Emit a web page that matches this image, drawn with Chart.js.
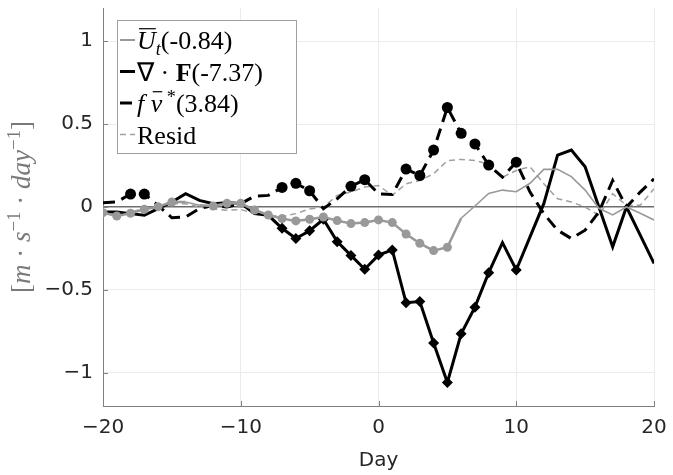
<!DOCTYPE html>
<html>
<head>
<meta charset="utf-8">
<script src="https://cdn.jsdelivr.net/npm/chart.js@4.4.0/dist/chart.umd.min.js"></script>
<style>
  html, body { margin: 0; padding: 0; background: #fff; }
  #wrap { width: 673px; height: 475px; }
</style>
</head>
<body>
<div id="wrap"><canvas id="lineChart"></canvas></div>
<script>
// days relative to event
var days = [-20, -19, -18, -17, -16, -15, -14, -13, -12, -11, -10, -9, -8, -7, -6, -5, -4, -3, -2, -1,
            0, 1, 2, 3, 4, 5, 6, 7, 8, 9, 10, 11, 12, 13, 14, 15, 16, 17, 18, 19, 20];

// zonal wind tendency
var ut = [-0.034, -0.054, -0.038, -0.014, 0.002, 0.03, 0.03, 0.01, 0.006, 0.022, 0.022, -0.018, -0.048, -0.07, -0.084, -0.074, -0.06, -0.082, -0.1, -0.094,
          -0.078, -0.094, -0.163, -0.219, -0.263, -0.243, -0.068, 0.006, 0.082, 0.102, 0.092, 0.143, 0.227, 0.227, 0.183, 0.102, -0.008, -0.048, 0.0, -0.038, -0.078];
var utSig = [1, 1, 1, 1, 1, 1, 0, 0, 1, 1, 1, 1, 1, 1, 1, 1, 1, 1, 1, 1,
             1, 1, 1, 1, 1, 1, 0, 0, 0, 0, 0, 0, 0, 0, 0, 0, 0, 0, 0, 0, 0];

// EP flux divergence
var divF = [-0.03, -0.03, -0.04, -0.05, -0.01, 0.03, 0.08, 0.04, 0.02, 0.026, 0.022, -0.04, -0.05, -0.128, -0.19, -0.143, -0.074, -0.209, -0.292, -0.375,
            -0.29, -0.259, -0.577, -0.57, -0.82, -1.058, -0.765, -0.604, -0.396, -0.215, -0.38, -0.18, 0.02, 0.313, 0.343, 0.243, 0.0, -0.24, 0.0, -0.17, -0.34];
var divFSig = [0, 0, 0, 0, 0, 0, 0, 0, 0, 0, 0, 0, 0, 1, 1, 1, 1, 1, 1, 1,
               1, 1, 1, 1, 1, 1, 1, 1, 1, 0, 1, 0, 0, 0, 0, 0, 0, 0, 0, 0, 0];

// coriolis term
var fv = [0.026, 0.03, 0.078, 0.078, 0.01, -0.065, -0.06, -0.01, 0.01, 0.0, 0.02, 0.065, 0.07, 0.118, 0.143, 0.098, -0.01, 0.05, 0.125, 0.165,
          0.08, 0.075, 0.229, 0.19, 0.343, 0.6, 0.444, 0.38, 0.253, 0.18, 0.27, 0.09, -0.04, -0.14, -0.19, -0.14, -0.03, 0.16, 0.0, 0.09, 0.17];
var fvSig = [0, 0, 1, 1, 0, 0, 0, 0, 0, 0, 0, 0, 0, 1, 1, 1, 0, 0, 1, 1,
             0, 0, 1, 1, 1, 1, 1, 1, 1, 0, 1, 0, 0, 0, 0, 0, 0, 0, 0, 0, 0];

// residual
var resid = [-0.03, -0.04, -0.03, -0.01, 0.0, 0.02, 0.02, 0.0, -0.01, -0.02, -0.015, -0.04, -0.05, -0.058, -0.04, -0.012, 0.0, 0.07, 0.09, 0.12,
             0.13, 0.07, 0.14, 0.16, 0.2, 0.28, 0.287, 0.28, 0.26, 0.18, 0.22, 0.243, 0.14, 0.05, 0.03, 0.0, -0.05, 0.08, 0.01, 0.01, 0.11];

var xTicks = [-20, -10, 0, 10, 20];
var yTicks = [-1, -0.5, 0, 0.5, 1];

var seriesNames = ['Ut(-0.84)', 'div F(-7.37)', 'f v*(3.84)', 'Resid'];
// legend labels as pieces of math text
var legendLabels = [
    [{t: 'U', i: 1, over: 1}, {t: 't', i: 1, sub: 1}, {t: '(-0.84)'}],
    [{t: '\u2207 \u00b7 '}, {t: 'F', b: 1}, {t: '(-7.37)'}],
    [{t: 'f', i: 1}, {t: ' v', i: 1, over: 1}, {t: ' *', sup: 1}, {t: '(3.84)'}],
    [{t: 'Resid'}]
];
var yTitle = [{t: '['}, {t: 'm', i: 1}, {t: ' \u00b7 '}, {t: 's', i: 1}, {t: '\u22121', sup: 1},
              {t: ' \u00b7 '}, {t: 'day', i: 1}, {t: '\u22121', sup: 1}, {t: ']'}];

function pts(arr) {
    return days.map(function (d, i) { return {x: d, y: arr[i]}; });
}
function radii(sig, r) {
    return sig.map(function (s) { return s ? r : 0; });
}
function minus(v) {
    return v < 0 ? '\u2212' + Math.abs(v) : '' + v;
}

function segFont(s, size) {
    var sz = (s.sub || s.sup) ? size * 0.7 : size;
    return (s.i ? 'italic ' : '') + (s.b ? 'bold ' : '') + sz + 'px "Liberation Serif"';
}
function richWidth(ctx, segs, size) {
    var w = 0;
    segs.forEach(function (s) { ctx.font = segFont(s, size); w += ctx.measureText(s.t).width; });
    return w;
}
function richText(ctx, segs, x, y, size) {
    segs.forEach(function (s) {
        ctx.font = segFont(s, size);
        var dy = s.sub ? size * 0.22 : (s.sup ? -size * 0.36 : 0);
        ctx.fillText(s.t, x, y + dy);
        var w = ctx.measureText(s.t).width;
        if (s.over) {
            var x0 = s.t.charAt(0) === ' ' ? x + ctx.measureText(' ').width : x;
            ctx.beginPath();
            ctx.lineWidth = 1.2;
            ctx.moveTo(x0 + 2, y - size * 0.78);
            ctx.lineTo(x + w, y - size * 0.78);
            ctx.stroke();
        }
        x += w;
    });
}

var legendBox = {
    id: 'legendBox',
    afterDraw: function (chart) {
        var ctx = chart.ctx;
        var xs = chart.scales.x, ys = chart.scales.y;
        ctx.save();
        // inward ticks
        ctx.strokeStyle = '#808080';
        ctx.lineWidth = 1;
        xTicks.forEach(function (v) {
            var px = Math.round(xs.getPixelForValue(v)) + 0.5;
            ctx.beginPath();
            ctx.moveTo(px, ys.bottom);
            ctx.lineTo(px, ys.bottom - 5);
            ctx.stroke();
        });
        yTicks.forEach(function (v) {
            var py = Math.round(ys.getPixelForValue(v)) + 0.5;
            ctx.beginPath();
            ctx.moveTo(xs.left, py);
            ctx.lineTo(xs.left + 5, py);
            ctx.stroke();
        });
        // y axis title
        ctx.save();
        ctx.translate(30, (ys.top + ys.bottom) / 2);
        ctx.rotate(-Math.PI / 2);
        ctx.fillStyle = '#7a7a7a';
        ctx.textBaseline = 'alphabetic';
        var tw = richWidth(ctx, yTitle, 27);
        richText(ctx, yTitle, -tw / 2, 0, 27);
        ctx.restore();
        // legend
        var bx = 117.5, by = 20.5, bw = 179, bh = 133;
        ctx.fillStyle = '#fff';
        ctx.fillRect(bx, by, bw, bh);
        ctx.strokeStyle = '#a0a0a0';
        ctx.lineWidth = 1;
        ctx.strokeRect(bx, by, bw, bh);
        chart.data.datasets.forEach(function (ds, i) {
            var cy = 40 + i * 31.5;
            ctx.strokeStyle = ds.borderColor;
            ctx.lineWidth = ds.borderWidth;
            ctx.setLineDash(ds.borderDash || []);
            ctx.beginPath();
            ctx.moveTo(120, cy);
            ctx.lineTo(135, cy);
            ctx.stroke();
            ctx.setLineDash([]);
            ctx.fillStyle = '#000';
            ctx.strokeStyle = '#000';
            ctx.textBaseline = 'alphabetic';
            richText(ctx, legendLabels[i], 137, cy + 9, 26);
        });
        ctx.restore();
    }
};

var ctx = document.getElementById('lineChart').getContext('2d');
var myChart = new Chart(ctx, {
    type: 'line',
    data: {
        datasets: [{
            label: seriesNames[0],
            data: pts(ut),
            borderColor: '#999999',
            backgroundColor: '#999999',
            borderWidth: 2,
            segment: {
                borderWidth: function (c) { return utSig[c.p0DataIndex] || utSig[c.p1DataIndex] ? 2.5 : 1.6; }
            },
            pointRadius: radii(utSig, 4.5),
            pointStyle: 'circle',
            pointBorderWidth: 0
        }, {
            label: seriesNames[1],
            data: pts(divF),
            borderColor: '#000000',
            backgroundColor: '#000000',
            borderWidth: 3,
            pointRadius: radii(divFSig, 5.5),
            pointStyle: 'rectRot',
            pointBorderWidth: 0
        }, {
            label: seriesNames[2],
            data: pts(fv),
            borderColor: '#000000',
            backgroundColor: '#000000',
            borderWidth: 3,
            borderDash: [12, 7],
            pointRadius: radii(fvSig, 5.5),
            pointStyle: 'circle',
            pointBorderWidth: 0
        }, {
            label: seriesNames[3],
            data: pts(resid),
            borderColor: '#a0a0a0',
            backgroundColor: '#a0a0a0',
            borderWidth: 1.5,
            borderDash: [6, 4],
            pointRadius: 0
        }]
    },
    options: {
        responsive: true,
        maintainAspectRatio: false,
        animation: false,
        layout: { padding: { left: 0, right: 19, top: 8, bottom: 0 } },
        plugins: {
            legend: { display: false },
            tooltip: { enabled: false }
        },
        elements: { line: { tension: 0 } },
        scales: {
            x: {
                type: 'linear',
                min: -20,
                max: 20,
                afterBuildTicks: function (scale) {
                    scale.ticks = xTicks.map(function (v) { return {value: v}; });
                },
                afterFit: function (scale) {
                    scale.height = 69;
                    scale.paddingLeft = 0;
                    scale.paddingRight = 0;
                },
                border: { color: '#808080', width: 1 },
                grid: { color: '#ebebeb', drawTicks: false },
                ticks: {
                    padding: 10,
                    color: '#262626',
                    font: { family: 'DejaVu Sans', size: 20 },
                    callback: function (v) { return minus(v); }
                },
                title: {
                    display: true,
                    text: 'Day',
                    color: '#262626',
                    font: { family: 'DejaVu Sans', size: 20 },
                    padding: { top: 0, bottom: 2 }
                }
            },
            y: {
                min: -1.2,
                max: 1.2,
                afterBuildTicks: function (scale) {
                    scale.ticks = yTicks.map(function (v) { return {value: v}; });
                },
                afterFit: function (scale) {
                    scale.width = 103;
                    scale.paddingTop = 0;
                    scale.paddingBottom = 0;
                },
                border: { color: '#808080', width: 1 },
                grid: {
                    drawTicks: false,
                    color: function (c) { return c.tick && c.tick.value === 0 ? '#6e6e6e' : '#ebebeb'; },
                    lineWidth: function (c) { return c.tick && c.tick.value === 0 ? 1.5 : 1; }
                },
                ticks: {
                    padding: 10,
                    color: '#262626',
                    font: { family: 'DejaVu Sans', size: 20 },
                    callback: function (v) { return minus(v); }
                }
            }
        }
    },
    plugins: [legendBox]
});
</script>
</body>
</html>
